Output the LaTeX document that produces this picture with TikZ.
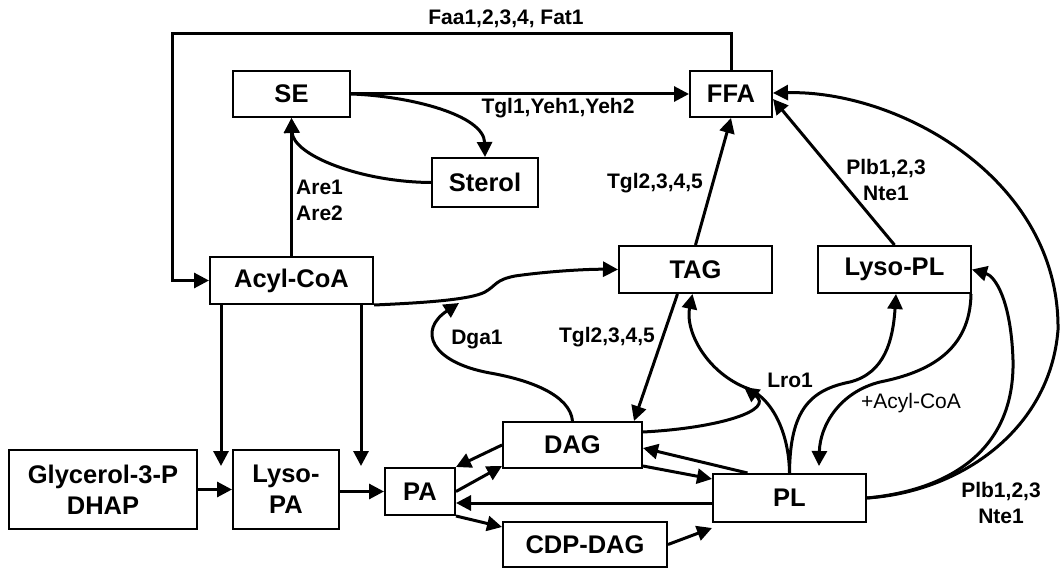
\documentclass[tikz,border=0pt]{standalone}
\usepackage{fontspec}
\setmainfont{Liberation Sans}
\usetikzlibrary{arrows.meta,calc}
\tikzset{
  box/.style={draw, line width=2pt, inner sep=0pt, align=center, font=\fontsize{25.5}{31}\selectfont\bfseries},
  arr/.style={line width=3pt, -{Triangle[length=15pt,width=15pt]}},
  lbl/.style={font=\fontsize{21}{26}\selectfont\bfseries, align=center, inner sep=0pt},
  lblr/.style={font=\fontsize{21}{26}\selectfont, align=center, inner sep=0pt},
}
\begin{document}
\begin{tikzpicture}[x=1pt,y=-1pt]
\useasboundingbox (0,0) rectangle (1061,569);
% nodes
\node[box, minimum width=117pt, minimum height=46pt] (SE) at (291.5,94) {SE};
\node[box, minimum width=106pt, minimum height=49pt] (Sterol) at (485,182.5) {Sterol};
\node[box, minimum width=163pt, minimum height=47pt] (Acyl) at (291.5,280.5) {Acyl-CoA};
\node[box, minimum width=82pt, minimum height=46pt] (FFA) at (731,94) {FFA};
\node[box, minimum width=153pt, minimum height=47pt] (TAG) at (695.5,269.5) {TAG};
\node[box, minimum width=153pt, minimum height=47pt] (LysoPL) at (894.5,269.5) {Lyso-PL};
\node[box, minimum width=188pt, minimum height=79pt] (Gly) at (103,489.5) {Glycerol-3-P\\DHAP};
\node[box, minimum width=106pt, minimum height=79pt] (LysoPA) at (286,489.5) {Lyso-\\PA};
\node[box, minimum width=70pt, minimum height=47pt] (PA) at (420,491.5) {PA};
\node[box, minimum width=139pt, minimum height=46pt] (DAG) at (572.5,445) {DAG};
\node[box, minimum width=153pt, minimum height=48pt] (PL) at (789.5,498) {PL};
\node[box, minimum width=164pt, minimum height=45pt] (CDP) at (585,544.5) {CDP-DAG};

% helper coordinates
\coordinate (tl) at (172,34);
\coordinate (d1) at (221,466);
\coordinate (d2) at (361,466);
\coordinate (w1) at (485,292);
\coordinate (w2) at (515,276);
\coordinate (dga) at (459,303);
\coordinate (dg1) at (490,373);
\coordinate (lj) at (744,387);
\coordinate (lp) at (850,382);
\coordinate (ac) at (880,382);
\coordinate (rr) at (1058,330);
\coordinate (rl) at (1013,360);
\coordinate (plw) at ([yshift=-5pt]PL.west);

% top loop FFA -> Acyl-CoA
\draw[arr] (FFA.north) |- (tl) |- (Acyl.west);
\node[lbl] (faa) at (506,19) {Faa1,2,3,4, Fat1};

% SE -> FFA
\draw[arr] (SE.east) -- (FFA.west);
\node[lbl] (tgl1) at (558,108) {Tgl1,Yeh1,Yeh2};

% SE -> Sterol, Sterol -> SE
\draw[arr] (SE.east) .. controls (410,96) and (484,115) .. (Sterol.north);
\draw[arr] (Sterol.west) .. controls (360,182) and (293,155) .. (SE.south);

% Acyl-CoA -> SE
\draw[arr] (Acyl.north) -- (SE.south);
\node[lbl, anchor=west, align=left] (are) at (296,200.5) {Are1\\Are2};

% TAG -> FFA
\draw[arr] (TAG.north) -- (FFA.south);
\node[lbl] (tgl2a) at (655,183) {Tgl2,3,4,5};

% Lyso-PL -> FFA
\draw[arr] (LysoPL.north) -- ([yshift=-5pt]FFA.east);
\node[lbl] (plb1) at (886,180) {Plb1,2,3\\Nte1};

% PL -> FFA big curve
\draw[arr] (PL.east) .. controls (960,492) and (1050,430) .. (rr)
  .. controls (1060,180) and (900,90) .. ([yshift=1pt]FFA.east);
\node[lbl] (plb2) at (1001,503) {Plb1,2,3\\Nte1};

% PL -> Lyso-PL (east)
\draw[arr] (PL.east) .. controls (950,490) and (1015,450) .. (rl)
  .. controls (1011,300) and (995,276) .. (LysoPL.east);

% Acyl-CoA -> TAG
\draw[arr] (Acyl.south east) .. controls (420,303) and (470,300) .. (w1)
  .. controls (497,285) and (495,280) .. (w2)
  .. controls (550,271) and (590,269) .. (TAG.west);

% Dga1
\draw[arr] (DAG.north) .. controls (570,395) and (530,380) .. (dg1)
  .. controls (430,362) and (418,330) .. (dga);
\node[lbl] (dga1) at (477,340) {Dga1};

% TAG -> DAG
\draw[arr] ([xshift=-18pt]TAG.south) -- ([xshift=61.5pt]DAG.north);
\node[lbl] (tgl2b) at (607,337) {Tgl2,3,4,5};

% PL -> TAG (Lro1)
\draw[arr] (PL.north) .. controls (789,430) and (770,395) .. (lj)
  .. controls (705,370) and (685,330) .. ([xshift=-3pt]TAG.south);
\draw[arr] ([yshift=13pt]DAG.east) .. controls (720,428) and (775,410) .. (lj);
\node[lbl] (lro) at (790,380) {Lro1};

% PL -> Lyso-PL (bottom)
\draw[arr] (PL.north) .. controls (790,410) and (810,390) .. (lp)
  .. controls (885,373) and (893,340) .. ([xshift=1.5pt]LysoPL.south);

% Lyso-PL -> PL (+Acyl-CoA)
\draw[arr] ([xshift=-1pt]LysoPL.south east) .. controls (970,350) and (930,372) .. (ac)
  .. controls (840,392) and (820,425) .. ([xshift=29.5pt,yshift=7pt]PL.north);
\node[lblr] (acyl2) at (911,403) {+Acyl-CoA};

% Acyl-CoA down arrows
\draw[arr] (Acyl.south -| d1) -- (d1);
\draw[arr] (Acyl.south -| d2) -- (d2);

% bottom row
\draw[arr] (Gly.east) -- (LysoPA.west);
\draw[arr] (LysoPA.east |- PA.west) -- (PA.west);
\draw[arr] (DAG.west) -- (PA.north east);
\draw[arr] (PA.east) -- ([yshift=3pt]DAG.south west);
\draw[arr] (plw) -- (plw -| PA.east);
\draw[arr] (PA.south east) -- ([yshift=-6pt]CDP.north west);
\draw[arr] (CDP.east) -- ([yshift=-5pt]PL.south west);
\draw[arr] ([yshift=3pt]DAG.south east) -- ([yshift=-6pt]PL.north west);
\draw[arr] ([xshift=-42pt]PL.north) -- ([yshift=-3pt]DAG.east);
\end{tikzpicture}
\end{document}
